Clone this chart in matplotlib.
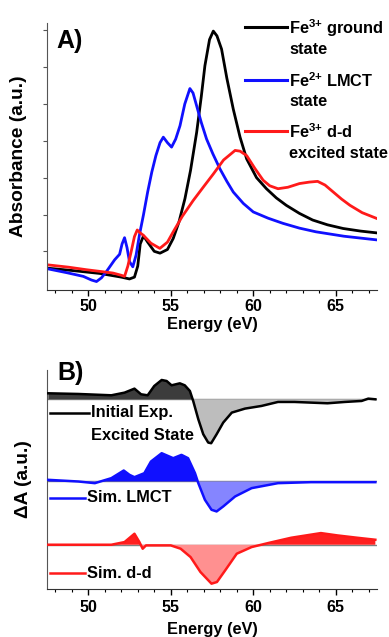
import matplotlib
matplotlib.use("Agg")
import matplotlib.pyplot as plt
from matplotlib.lines import Line2D
import numpy as np

plt.rcParams['font.family'] = ['Liberation Sans', 'DejaVu Sans']
plt.rcParams['font.weight'] = 'bold'
plt.rcParams['mathtext.fontset'] = 'custom'
plt.rcParams['mathtext.rm'] = 'Liberation Sans:bold'
plt.rcParams['mathtext.bf'] = 'Liberation Sans:bold'
plt.rcParams['mathtext.default'] = 'rm'

# ---------------- Panel A data (absorbance, a.u.) ----------------
ground_E = [47.6, 49.0, 50.7, 52.0, 52.5, 52.8, 53.0, 53.15, 53.35, 53.6, 54.0, 54.35, 54.8, 55.15,
            55.5, 55.86, 56.2, 56.57, 56.85, 57.07, 57.35, 57.58, 57.8, 58.08, 58.4, 58.79, 59.2,
            59.6, 60.2, 60.8, 61.4, 62.0, 62.8, 63.6, 64.5, 65.45, 66.5, 67.5]
ground_A = [0.54, 0.48, 0.40, 0.30, 0.25, 0.30, 0.60, 1.20, 1.42, 1.25, 1.00, 0.95, 1.05, 1.35,
            1.80, 2.43, 3.20, 4.23, 5.20, 6.04, 6.75, 6.98, 6.85, 6.49, 5.70, 4.86, 4.10,
            3.51, 3.00, 2.70, 2.45, 2.25, 2.03, 1.85, 1.72, 1.62, 1.55, 1.50]

lmct_E = [47.6, 48.7, 49.7, 50.2, 50.5, 50.8, 51.1, 51.6, 51.9, 52.05, 52.2, 52.35, 52.5, 52.7,
          52.9, 53.1, 53.35, 53.6, 53.85, 54.1, 54.35, 54.55, 54.8, 55.05, 55.3, 55.56, 55.85,
          56.16, 56.35, 56.57, 56.85, 57.17, 57.55, 57.98, 58.4, 58.79, 59.4, 60.0, 60.9, 61.8,
          62.8, 63.8, 65.5, 67.5]
lmct_A = [0.52, 0.42, 0.32, 0.22, 0.18, 0.28, 0.45, 0.77, 0.92, 1.20, 1.37, 1.10, 0.72, 0.58,
          0.90, 1.44, 2.00, 2.61, 3.15, 3.60, 3.95, 4.10, 3.95, 3.83, 4.05, 4.41, 5.00,
          5.42, 5.30, 4.95, 4.50, 4.05, 3.65, 3.24, 2.90, 2.61, 2.30, 2.07, 1.90, 1.76,
          1.63, 1.53, 1.41, 1.31]

dd_E = [47.6, 48.8, 49.9, 50.8, 51.5, 52.0, 52.2, 52.4, 52.6, 52.8, 52.97, 53.15, 53.33, 53.8,
        54.34, 54.8, 55.15, 55.7, 56.36, 57.0, 57.58, 58.2, 58.9, 59.2, 59.6, 60.1, 60.6, 61.0,
        61.5, 62.1, 62.8, 63.4, 63.9, 64.35, 64.85, 65.35, 65.86, 66.6, 67.5]
dd_A = [0.63, 0.57, 0.50, 0.45, 0.41, 0.35, 0.32, 0.60, 0.99, 1.40, 1.58, 1.50, 1.44, 1.22,
        1.08, 1.25, 1.53, 1.95, 2.38, 2.76, 3.10, 3.48, 3.74, 3.72, 3.60, 3.25, 2.93, 2.78,
        2.70, 2.74, 2.84, 2.88, 2.90, 2.80, 2.61, 2.42, 2.25, 2.05, 1.89]

# ---------------- Panel B data (difference spectra, offset traces) ----------------
exp_E = [47.58, 49.4, 51.4, 52.2, 52.8, 53.2, 53.6, 54.0, 54.45, 54.75, 55.05, 55.55, 55.85,
         56.16, 56.36, 56.67, 56.97, 57.27, 57.45, 57.78, 58.18, 58.7, 59.5, 60.5, 61.5, 62.5,
         63.5, 64.5, 65.55, 66.57, 66.97, 67.4]
exp_dA = [0.18, 0.16, 0.12, 0.20, 0.32, 0.15, 0.12, 0.40, 0.58, 0.55, 0.42, 0.48, 0.42,
          0.25, -0.05, -0.60, -1.05, -1.30, -1.32, -1.05, -0.70, -0.40, -0.28, -0.20, -0.08, -0.08,
          -0.10, -0.12, -0.08, -0.05, 0.02, 0.00]

simlmct_E = [47.58, 49.4, 50.4, 51.4, 52.15, 52.5, 52.8, 53.4, 53.8, 54.45, 55.15, 55.65, 56.05,
             56.47, 56.67, 57.07, 57.47, 57.78, 58.18, 58.9, 59.9, 61.5, 63.5, 67.4]
simlmct_dA = [0.05, 0.00, -0.05, 0.10, 0.33, 0.20, 0.13, 0.25, 0.60, 0.85, 0.70, 0.80, 0.70,
              0.25, -0.05, -0.55, -0.85, -0.90, -0.75, -0.45, -0.20, -0.05, -0.02, -0.02]

simdd_E = [47.58, 51.4, 52.2, 52.8, 53.1, 53.3, 53.5, 55.0, 55.6, 56.2, 56.8, 57.47, 57.8,
           58.3, 59.0, 59.9, 60.9, 62.3, 64.1, 65.1, 66.3, 67.4]
simdd_dA = [0.00, 0.00, 0.08, 0.33, 0.08, -0.12, -0.02, -0.02, -0.12, -0.37, -0.82, -1.17, -1.12,
            -0.77, -0.27, -0.07, 0.05, 0.21, 0.35, 0.28, 0.21, 0.15]

offsets = [5.70, 3.23, 1.33]

# ---------------- Figure ----------------
W, H = 389, 637
fig = plt.figure(figsize=(W / 100, H / 100), dpi=100)

def fx(px):
    return px / W

def fy(py):
    return 1 - py / H

axA = fig.add_axes([fx(47), fy(290), fx(377) - fx(47), fy(23) - fy(290)])
axB = fig.add_axes([fx(47), fy(589), fx(377) - fx(47), fy(370) - fy(589)])

FS = 11.8      # legend / axis-label text
TFS = 11.5     # tick labels
YFS = 13.8     # vertical axis labels

axA.plot(ground_E, ground_A, color='black', lw=2.0)
axA.plot(lmct_E, lmct_A, color='#1010ff', lw=2.0)
axA.plot(dd_E, dd_A, color='#ff1a1a', lw=2.0)
axA.set_xlim(47.5, 67.5)
axA.set_ylim(-0.05, 7.2)
axA.set_yticks(np.arange(1, 8))
axA.set_yticklabels([])
axA.set_ylabel('Absorbance (a.u.)', fontsize=YFS, fontweight='bold', labelpad=8)
axA.set_xlabel('Energy (eV)', fontsize=FS, fontweight='bold', labelpad=2.5)

# Panel B traces
spec = [(exp_E, exp_dA, 'black', '#3c3c3c', '#bdbdbd'),
        (simlmct_E, simlmct_dA, '#1010ff', '#1010ff', '#8585ff'),
        (simdd_E, simdd_dA, '#ff1a1a', '#ff2020', '#ff9090')]
for (E, dA, lc, pos_c, neg_c), off in zip(spec, offsets):
    E = np.asarray(E)
    y = np.asarray(dA) + off
    axB.axhline(off, color='#808080', lw=1.0, zorder=1)
    axB.fill_between(E, off, y, where=y >= off, interpolate=True, color=pos_c, lw=0, zorder=2)
    axB.fill_between(E, off, y, where=y <= off, interpolate=True, color=neg_c, lw=0, zorder=2)
    axB.plot(E, y, color=lc, lw=1.8, zorder=3)
axB.set_xlim(47.5, 67.5)
axB.set_ylim(0, 6.58)
axB.set_yticks([])
axB.set_ylabel('ΔA (a.u.)', fontsize=YFS, fontweight='bold', labelpad=11)
axB.set_xlabel('Energy (eV)', fontsize=FS, fontweight='bold', labelpad=5)

for ax in (axA, axB):
    for s in ('top', 'right'):
        ax.spines[s].set_visible(False)
    ax.spines['left'].set_color('#555555')
    ax.spines['bottom'].set_color('#333333')
    ax.set_xticks([50, 55, 60, 65])
    ax.set_xticks(np.arange(48, 68, 1), minor=True)
    ax.tick_params(axis='x', which='major', length=4, width=1, direction='out',
                   labelsize=TFS, pad=2.5)
    ax.tick_params(axis='x', which='minor', length=2, width=0.8, direction='out')
    for lab in ax.get_xticklabels():
        lab.set_fontweight('bold')
axB.tick_params(axis='x', which='major', pad=4)
axA.tick_params(axis='y', which='major', length=3, width=0.8, direction='out', color='#555555')

# Panel labels
fig.text(fx(56), fy(41), 'A)', fontsize=18, fontweight='bold', va='center', ha='left')
fig.text(fx(57), fy(373), 'B)', fontsize=18, fontweight='bold', va='center', ha='left')

# Panel A legend
legA = [(27, 'black', r'Fe$^{3{+}}$ ground', 'state'),
        (80, '#1010ff', r'Fe$^{2{+}}$ LMCT', 'state'),
        (131, '#ff1a1a', r'Fe$^{3{+}}$ d-d', 'excited state')]
for y, c, l1, l2 in legA:
    fig.add_artist(Line2D([fx(245), fx(287)], [fy(y), fy(y)], color=c, lw=2.2))
    fig.text(fx(289), fy(y + 1), l1, fontsize=FS, fontweight='bold', va='center', ha='left')
    fig.text(fx(289), fy(y + 22), l2, fontsize=FS, fontweight='bold', va='center', ha='left')

# Panel B legend
legB = [(413, 'black', 50, 89, 'Initial Exp.', 'Excited State'),
        (498, '#1010ff', 50, 85, 'Sim. LMCT', None),
        (573, '#ff1a1a', 50, 85, 'Sim. d-d', None)]
for y, c, x0, x1, t1, t2 in legB:
    fig.add_artist(Line2D([fx(x0), fx(x1)], [fy(y), fy(y)], color=c, lw=1.8))
    fig.text(fx(x1 + 2), fy(y), t1, fontsize=FS, fontweight='bold', va='center', ha='left')
    if t2:
        fig.text(fx(x1 + 2), fy(y + 23), t2, fontsize=FS, fontweight='bold', va='center', ha='left')

fig.savefig('out.png', dpi=100)
